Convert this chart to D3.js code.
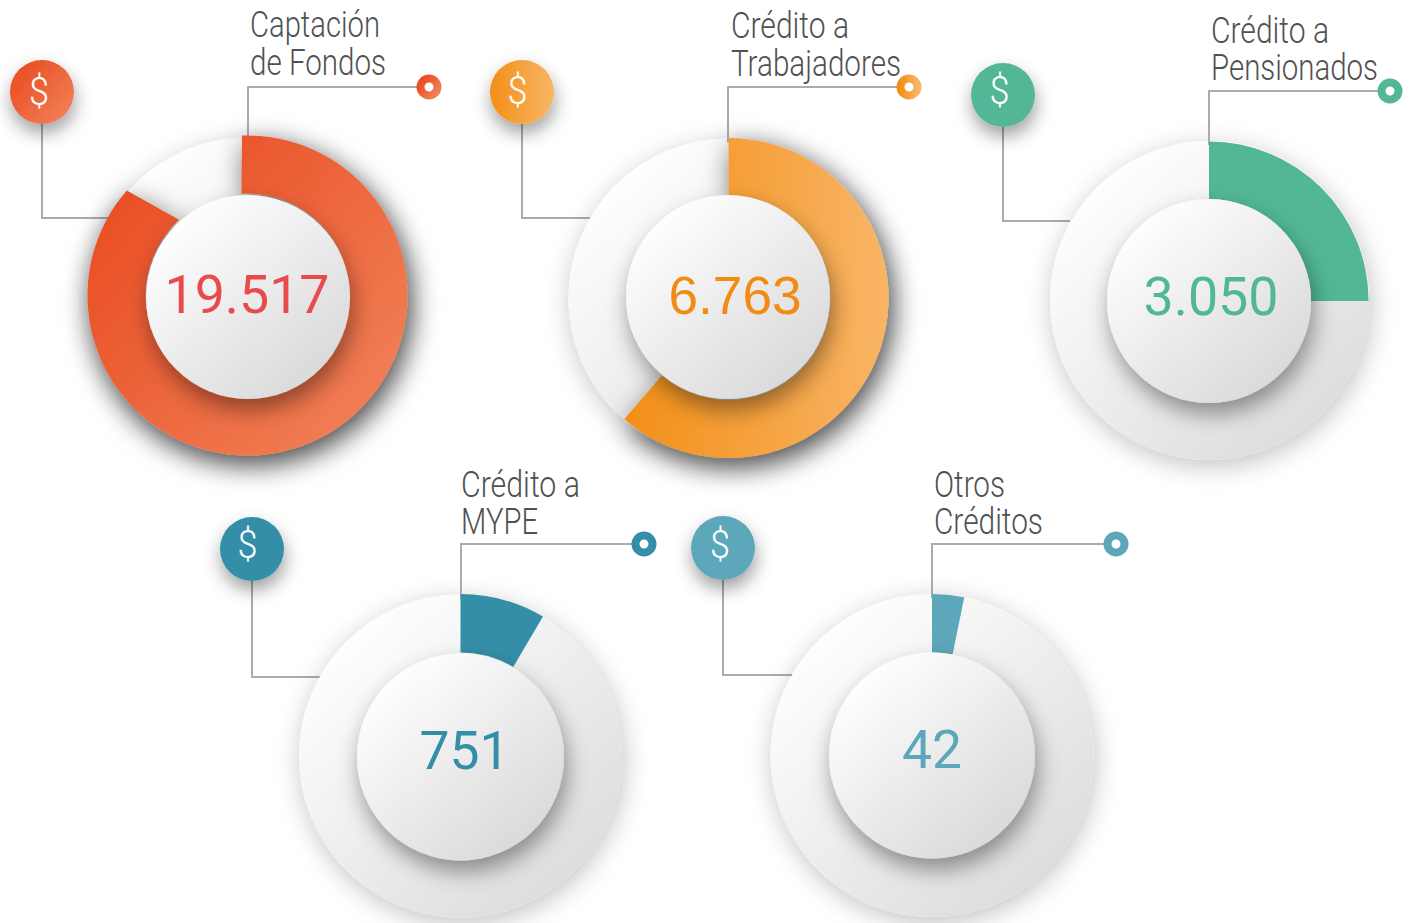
<!DOCTYPE html>
<html><head><meta charset="utf-8">
<style>html,body{margin:0;padding:0;background:#fff;overflow:hidden}svg{display:block}</style>
<script src="https://cdn.jsdelivr.net/npm/d3@7"></script></head>
<body><svg id="c" width="1409" height="923"></svg>
<script>
// ---- data ----
const labelLine1 = ["Captación","Crédito a","Crédito a","Crédito a","Otros"];
const labelLine2 = ["de Fondos","Trabajadores","Pensionados","MYPE","Créditos"];
const valueLabels = ["19.517","6.763","3.050","751","42"];
const values = [19517,6763,3050,751,42];
// share of the ring that is filled, in turns (as drawn, not proportional to the values)
const filledTurns = [0.864,0.613,0.25,0.085,0.032];

// ---- layout & style ----
const layout = [
 {cx:247.5,cy:296.5,r:159,ir:102,arcR:160,arcCx:247.5,arcCy:295.5,icx:248,icy:297,dx:42,dy:92,gx:39,gy:92,rx:429,ry:87,lx:250,b1:37,b2:75,w1:130,w2:136,stemX:248,stemTop:87,armX:420,elbowY:218,elbowX:108,vx:247,vb:313,vw:165,
  startSkew:[-0.0055,-0.0095],endSkew:[0,0.019],shadow:true},
 {cx:728.5,cy:298.5,r:160,ir:102,arcR:160,arcCx:728.5,arcCy:298,icx:728,icy:297,dx:522,dy:92,gx:517.5,gy:91,rx:909,ry:87,lx:731,b1:38,b2:76,w1:118,w2:170,stemX:728,stemTop:87,armX:900,elbowY:218,elbowX:590,vx:735,vb:314,vw:133,
  startSkew:[0,0],endSkew:[0,0],shadow:true},
 {cx:1209.5,cy:300.5,r:159.5,ir:102,arcR:159.5,arcCx:1209,arcCy:301,icx:1209,icy:301,dx:1003,dy:95,gx:999.5,gy:91,rx:1390,ry:91,lx:1211,b1:43,b2:80,w1:118,w2:167,stemX:1209,stemTop:91,armX:1380,elbowY:221,elbowX:1070,vx:1211,vb:315,vw:135,
  startSkew:[0,0],endSkew:[0,0],shadow:false},
 {cx:460.5,cy:756,r:161.5,ir:103.5,arcR:162,arcCx:460.5,arcCy:756,icx:460.5,icy:757,dx:252,dy:549,gx:247.5,gy:545,rx:644,ry:544,lx:461,b1:497,b2:534,w1:119,w2:77,stemX:461,stemTop:544,armX:635,elbowY:677,elbowX:320,vx:464.5,vb:769,vw:90,
  startSkew:[0,0],endSkew:[0,0],shadow:false},
 {cx:932,cy:755.5,r:161.5,ir:103,arcR:161.5,arcCx:932,arcCy:755.5,icx:932,icy:755.5,dx:723,dy:548,gx:720,gy:545,rx:1116,ry:544,lx:934,b1:497,b2:534,w1:71,w2:109,stemX:932,stemTop:544,armX:1105,elbowY:675,elbowX:792,vx:932,vb:768,vw:60,
  startSkew:[0,0],endSkew:[0,0],shadow:false}
];
const palette = [
 {a:"#E94E24",b:"#F17E55",text:"#E94B4C",grad:"diag",font:"Roboto"},
 {a:"#F28F17",b:"#F9B566",text:"#F38B13",grad:"horiz",font:"'Liberation Sans'"},
 {a:"#52B797",b:"#52B797",text:"#52B797",grad:"diag",font:"Roboto"},
 {a:"#358EA8",b:"#358EA8",text:"#358EA8",grad:"diag",font:"Roboto"},
 {a:"#5CA8BA",b:"#5CA8BA",text:"#5CA8BA",grad:"diag",font:"Roboto"}
];
const lineColor = "#ababab", labelColor = "#505153";

const svg = d3.select("#c");
const defs = svg.append("defs");
const turnToRad = d3.scaleLinear().domain([0,1]).range([0,2*Math.PI]);

function shadowFilter(id,dx,dy,blur,op){
  const f = defs.append("filter").attr("id",id).attr("x","-40%").attr("y","-40%").attr("width","180%").attr("height","180%");
  f.append("feDropShadow").attr("dx",dx).attr("dy",dy).attr("stdDeviation",blur).attr("flood-color","#000").attr("flood-opacity",op);
}
shadowFilter("discShadow",2,6,13,0.24);
shadowFilter("innerShadow",3,11,11,0.40);
shadowFilter("arcShadow",4,9,14,0.62);
shadowFilter("coinShadow",1,9,9,0.38);

const grey = defs.append("linearGradient").attr("id","grey").attr("x1","0.15").attr("y1","0.1").attr("x2","0.85").attr("y2","0.9");
grey.append("stop").attr("offset",0).attr("stop-color","#ffffff");
grey.append("stop").attr("offset",1).attr("stop-color","#dcdcdc");
const grey2 = defs.append("linearGradient").attr("id","grey2").attr("x1","0.15").attr("y1","0.1").attr("x2","0.85").attr("y2","0.9");
grey2.append("stop").attr("offset",0).attr("stop-color","#ffffff");
grey2.append("stop").attr("offset",1).attr("stop-color","#d9d9d9");

palette.forEach((p,i)=>{
  const g = defs.append("linearGradient").attr("id","col"+i);
  if(p.grad==="horiz"){g.attr("x1",0).attr("y1",0).attr("x2",1).attr("y2",0);}
  else{g.attr("x1",0.1).attr("y1",0.15).attr("x2",0.9).attr("y2",0.85);}
  g.append("stop").attr("offset",0).attr("stop-color",p.a);
  g.append("stop").attr("offset",1).attr("stop-color",p.b);
});

// ring sector; inner and outer edges may use different angles, since some cuts in the source are not radial
function sector(turn,L){
  const offs = -Math.PI/2;
  const a0 = turnToRad(L.startSkew[0])+offs, a1 = turnToRad(turn+L.endSkew[0])+offs;
  const b0 = turnToRad(L.startSkew[1])+offs, b1 = turnToRad(turn+L.endSkew[1])+offs;
  const p = d3.path();
  p.arc(0,0,L.arcR,a0,a1,false);
  p.lineTo(L.ir*Math.cos(b1),L.ir*Math.sin(b1));
  p.arc(0,0,L.ir,b1,b0,true);
  p.closePath();
  return p.toString();
}

const gauges = svg.selectAll("g.gauge").data(values).join("g").attr("class","gauge");

gauges.each(function(v,i){
  const g = d3.select(this), L = layout[i], P = palette[i];
  // connectors
  g.append("path").attr("fill","none").attr("stroke",lineColor).attr("stroke-width",2)
    .attr("d",d3.line()([[L.dx,L.dy+30],[L.dx,L.elbowY],[L.elbowX,L.elbowY]]));
  // background disc
  g.append("circle").attr("cx",L.cx).attr("cy",L.cy).attr("r",L.r).attr("fill","url(#grey)").attr("filter","url(#discShadow)");
  // top connector over the disc edge
  g.append("path").attr("fill","none").attr("stroke",lineColor).attr("stroke-width",2)
    .attr("d",d3.line()([[L.stemX,L.cy-L.r+(i==0?0:4)],[L.stemX,L.stemTop],[L.armX,L.stemTop]]));
  // filled arc
  g.append("path").attr("transform",`translate(${L.arcCx},${L.arcCy})`)
    .attr("d",sector(filledTurns[i],L)).attr("fill",`url(#col${i})`)
    .attr("filter",L.shadow?"url(#arcShadow)":null);
  // inner disc
  g.append("circle").attr("cx",L.icx).attr("cy",L.icy).attr("r",L.ir).attr("fill","url(#grey2)").attr("filter","url(#innerShadow)");
  // value
  g.append("text").attr("x",L.vx).attr("y",L.vb).attr("text-anchor","middle")
    .attr("font-family",P.font).attr("font-size",54).attr("fill",P.text)
    .attr("textLength",L.vw).attr("lengthAdjust","spacingAndGlyphs").text(valueLabels[i]);
  // coin
  g.append("circle").attr("cx",L.dx).attr("cy",L.dy).attr("r",32).attr("fill",`url(#col${i})`).attr("filter","url(#coinShadow)");
  g.append("text").attr("x",L.gx).attr("y",L.gy+12.5).attr("text-anchor","middle")
    .attr("font-family","Roboto").attr("font-weight",300).attr("font-size",38).attr("fill","#fff")
    .attr("textLength",20).attr("lengthAdjust","spacingAndGlyphs").text("$");
  // end ring
  g.append("circle").attr("cx",L.rx).attr("cy",L.ry).attr("r",8.5).attr("fill","#fff").attr("stroke",`url(#col${i})`).attr("stroke-width",8);
  // labels
  [[labelLine1[i],L.b1,L.w1],[labelLine2[i],L.b2,L.w2]].forEach(([t,b,w])=>{
    g.append("text").attr("x",L.lx).attr("y",b).attr("font-family","Roboto").attr("font-weight",300)
      .attr("font-size",36).attr("fill",labelColor)
      .attr("textLength",w).attr("lengthAdjust","spacingAndGlyphs").text(t);
  });
});
</script></body></html>
